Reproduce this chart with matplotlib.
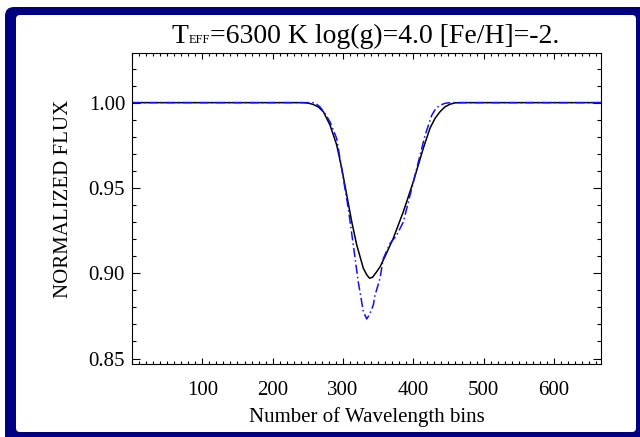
import matplotlib
matplotlib.use('Agg')
import matplotlib.pyplot as plt
from matplotlib.patches import FancyBboxPatch
from matplotlib.transforms import IdentityTransform
from matplotlib.ticker import MultipleLocator

black_x = [0, 100, 200, 236, 243, 248.5, 253, 257.9, 265, 272.1, 281.6, 291.1, 298.3, 305.4,
           312.5, 319.6, 329.0, 334, 337.8, 342, 348.0, 352.7, 360, 371.6, 385.9, 400.1,
           414.3, 423.8, 431, 438.1, 445, 452.3, 460, 471.2, 500, 600, 667]
black_y = [1.0, 1.0, 1.0, 1.0, 1.0, 0.9998, 0.9995, 0.9989, 0.9975, 0.9947, 0.9869, 0.9752,
           0.9615, 0.9459, 0.9302, 0.9166, 0.9029, 0.8990, 0.8971, 0.8976, 0.9009, 0.9037,
           0.9100, 0.9205, 0.9361, 0.9537, 0.9733, 0.9850, 0.9908, 0.9947, 0.9975, 0.9991,
           0.9999, 1.0, 1.0, 1.0, 1.0]

blue_x = [0, 100, 200, 250, 257.4, 262, 267.4, 274, 281.6, 291.1, 300.5, 307.6, 314.7, 321.8,
          329.0, 333.8, 338, 343.2, 345.6, 352.7, 357.4, 366.9, 376.4, 385.9, 395.4, 407.2,
          416.8, 426.3, 432, 438.1, 445, 452.3, 500, 600, 667]
blue_y = [1.0, 1.0, 1.0, 1.0, 1.0, 0.9993, 0.9975, 0.9940, 0.9887, 0.9790, 0.9555, 0.9380,
          0.9166, 0.8949, 0.8775, 0.8732, 0.8760, 0.8814, 0.8871, 0.8969, 0.9086, 0.9174,
          0.9223, 0.9301, 0.9457, 0.9652, 0.9809, 0.9926, 0.9965, 0.9985, 0.9996, 1.0,
          1.0, 1.0, 1.0]

x_ticks = [100, 200, 300, 400, 500, 600]
y_ticks = [0.85, 0.90, 0.95, 1.00]
# title in three pieces: T, small EFF, rest
title_parts = ['T', 'EFF', '=6300 K log(g)=4.0 [Fe/H]=-2.']

plt.rcParams['font.family'] = 'Liberation Serif'

fig = plt.figure(figsize=(6.4, 4.37), dpi=100)
fig.patch.set_facecolor('white')

# navy frame round the plot
H = 437
frame = FancyBboxPatch((5, -30), 660, H - 7 + 30, boxstyle='round,pad=0,rounding_size=9',
                       transform=IdentityTransform(), facecolor='#000080', edgecolor='none',
                       zorder=-2)
inner = FancyBboxPatch((16, H - 432), 620, 432 - 15, boxstyle='round,pad=0,rounding_size=4',
                       transform=IdentityTransform(), facecolor='white', edgecolor='none',
                       zorder=-1)
fig.add_artist(frame)
fig.add_artist(inner)

ax = fig.add_axes([132 / 640, 1 - 364 / H, (601 - 132) / 640, (364 - 53) / H])
ax.plot(black_x, black_y, color='black', lw=1.1)
ax.plot(blue_x, blue_y, color='#1010ff', lw=1.1, linestyle=(0, (6, 2, 1, 2)))

ax.set_xlim(0, 667)
ax.set_ylim(0.8468, 1.0291)
ax.set_xticks(x_ticks)
ax.set_yticks(y_ticks)
ax.set_yticklabels(['%.2f' % v for v in y_ticks])
ax.xaxis.set_minor_locator(MultipleLocator(10))
ax.yaxis.set_minor_locator(MultipleLocator(0.01))
ax.tick_params(which='both', direction='in', top=True, right=True, labelsize=15, width=0.8)
ax.tick_params(axis='x', which='major', length=4, pad=12)
ax.tick_params(axis='x', which='minor', length=2)
ax.tick_params(axis='y', which='major', length=5.5, pad=5)
ax.tick_params(axis='y', which='minor', length=3)
for s in ax.spines.values():
    s.set_linewidth(0.8)

ax.set_xlabel('Number of Wavelength bins', fontsize=15, labelpad=5)
ax.set_ylabel('NORMALIZED FLUX', fontsize=15)
ax.yaxis.set_label_coords(-0.125, 0.53)

base = 1 - 43 / H
t1 = fig.text(172 / 640, base, title_parts[0], fontsize=20, va='baseline', ha='left')
t2 = ax.annotate(title_parts[1], xy=(1, base), xycoords=(t1, 'figure fraction'),
                 fontsize=9, va='baseline', ha='left', annotation_clip=False)
t3 = ax.annotate(title_parts[2], xy=(1, base), xycoords=(t2, 'figure fraction'),
                 fontsize=20, va='baseline', ha='left', annotation_clip=False)

fig.savefig('out.png', dpi=100)
